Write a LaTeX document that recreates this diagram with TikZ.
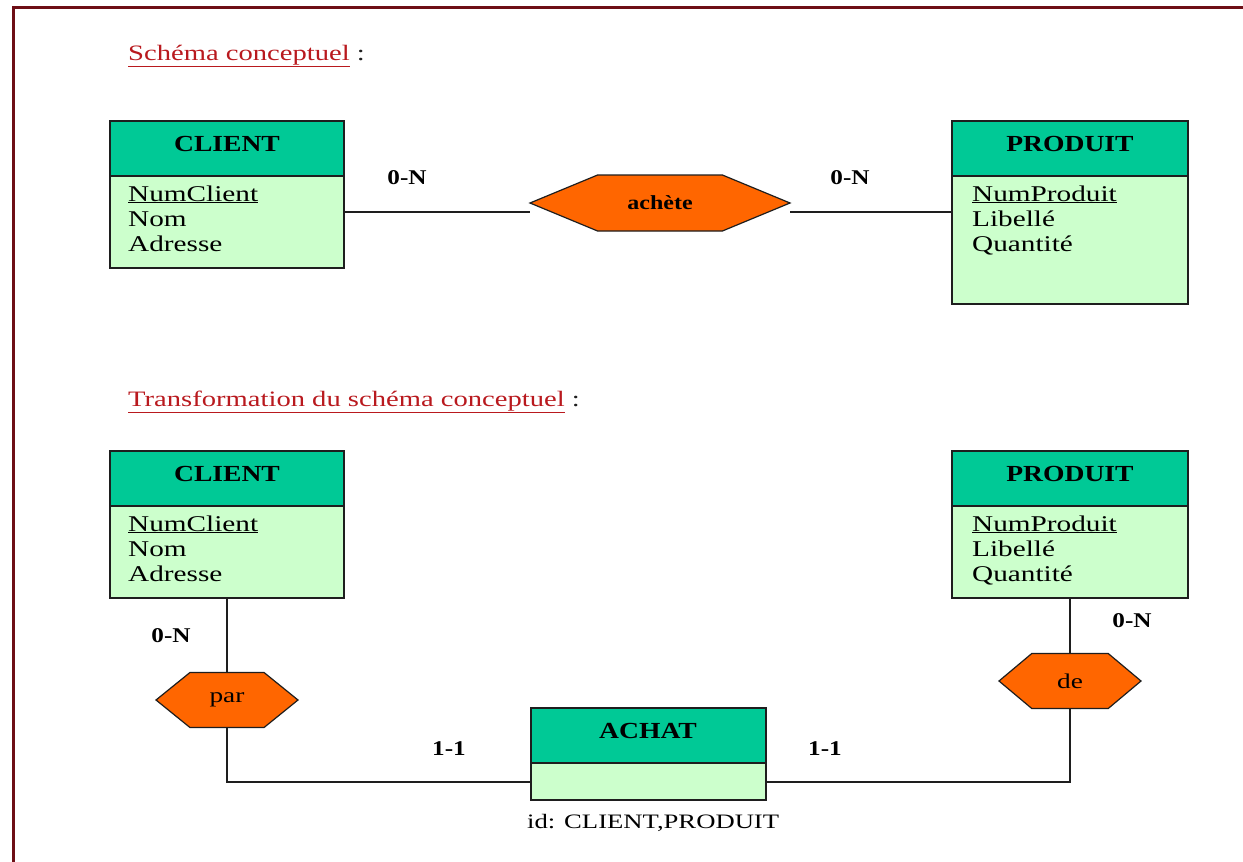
\documentclass[tikz,border=0pt]{standalone}
\usepackage{fontspec}
\setmainfont{Liberation Serif}
\newfontfamily\wideserif{Liberation Serif}[FakeStretch=1.3]
\newfontfamily\boldserif{Liberation Serif}[FakeStretch=1.2]
\usetikzlibrary{shapes.symbols}
\definecolor{framered}{RGB}{110,14,22}
\definecolor{titlered}{RGB}{185,25,30}
\definecolor{headgreen}{RGB}{0,201,150}
\definecolor{bodygreen}{RGB}{204,255,204}
\definecolor{relorange}{RGB}{255,102,0}
\definecolor{inkline}{RGB}{30,30,30}

\begin{document}
\begin{tikzpicture}[x=1pt,y=-1pt,
  entbox/.style={draw=inkline, line width=1.8pt, fill=bodygreen, rectangle,
    inner sep=0pt, outer sep=0pt, anchor=north west},
  enthead/.style={draw=inkline, line width=1.8pt, fill=headgreen, rectangle,
    inner sep=0pt, outer sep=0pt, anchor=north west, minimum height=55pt},
  entname/.style={font=\boldserif\bfseries\fontsize{23}{25}\selectfont,
    inner sep=0pt, anchor=base},
  attr/.style={font=\wideserif\fontsize{22.5}{25}\selectfont, inner sep=0pt,
    anchor=base west},
  card/.style={font=\boldserif\bfseries\fontsize{21}{24}\selectfont, inner sep=0pt},
  relshape/.style={shape=signal, signal to=east and west, draw=inkline,
    line width=1.2pt, fill=relorange, inner sep=0pt, outer sep=0pt},
  link/.style={draw=inkline, line width=1.8pt},
  heading/.style={font=\wideserif\fontsize{22}{25}\selectfont, inner sep=0pt,
    anchor=base west, text=inkline}
]
\useasboundingbox (0,0) rectangle (1243,862);
\fill[white] (0,0) rectangle (1243,862);

% page frame
\draw[framered, line width=3pt] (13,862) -- (13,7) -- (1243,7);

% section headings
\node[heading] (title1) at (128,60)
  {\textcolor{titlered}{\underline{Schéma conceptuel}} :};
\node[heading] (title2) at (128,406)
  {\textcolor{titlered}{\underline{Transformation du schéma conceptuel}} :};

% ---------- conceptual schema ----------
\node[entbox, minimum width=234pt, minimum height=147pt] (client1) at (110,121) {};
\node[enthead, minimum width=234pt] (client1h) at (client1.north west) {};
\node[entname] (client1n) at (227,151) {CLIENT};
\node[attr] (client1a) at (128,201) {\underline{NumClient}};
\node[attr] (client1b) at (128,226) {Nom};
\node[attr] (client1c) at (128,251) {Adresse};

\node[entbox, minimum width=236pt, minimum height=183pt] (produit1) at (952,121) {};
\node[enthead, minimum width=236pt] (produit1h) at (produit1.north west) {};
\node[entname] (produit1n) at (1070,151) {PRODUIT};
\node[attr] (produit1a) at (972,201) {\underline{NumProduit}};
\node[attr] (produit1b) at (972,226) {Libellé};
\node[attr] (produit1c) at (972,251) {Quantité};

\node[relshape, minimum width=260pt, minimum height=56pt, signal pointer angle=45,
  font=\boldserif\bfseries\fontsize{20}{22}\selectfont] (achete) at (660,203) {achète};

\coordinate (topline) at (0,212);
\draw[link] (client1.east |- topline) -- (achete.west |- topline);
\draw[link] (achete.east |- topline) -- (produit1.west |- topline);

\node[card] (card1) at (407,178) {0-N};
\node[card] (card2) at (850,178) {0-N};

% ---------- transformed schema ----------
\node[entbox, minimum width=234pt, minimum height=147pt] (client2) at (110,451) {};
\node[enthead, minimum width=234pt] (client2h) at (client2.north west) {};
\node[entname] (client2n) at (227,481) {CLIENT};
\node[attr] (client2a) at (128,531) {\underline{NumClient}};
\node[attr] (client2b) at (128,556) {Nom};
\node[attr] (client2c) at (128,581) {Adresse};

\node[entbox, minimum width=236pt, minimum height=147pt] (produit2) at (952,451) {};
\node[enthead, minimum width=236pt] (produit2h) at (produit2.north west) {};
\node[entname] (produit2n) at (1070,481) {PRODUIT};
\node[attr] (produit2a) at (972,531) {\underline{NumProduit}};
\node[attr] (produit2b) at (972,556) {Libellé};
\node[attr] (produit2c) at (972,581) {Quantité};

\node[entbox, minimum width=235pt, minimum height=92pt] (achat) at (531,708) {};
\node[enthead, minimum width=235pt] (achath) at (achat.north west) {};
\node[entname] (achatn) at (648,738) {ACHAT};
\node[attr, font=\wideserif\fontsize{20.5}{24}\selectfont] (achatid) at (527,828)
  {id: CLIENT,PRODUIT};

\node[relshape, minimum width=142pt, minimum height=55pt, signal pointer angle=78,
  font=\wideserif\fontsize{21}{22}\selectfont] (par) at (227,700) {par};
\node[relshape, minimum width=142pt, minimum height=55pt, signal pointer angle=80,
  font=\wideserif\fontsize{21}{22}\selectfont] (de) at (1070,681) {de};

\coordinate (botline) at (0,782);
\draw[link] (client2.south) -- (par.north);
\draw[link] (par.south) |- (achat.west |- botline);
\draw[link] (produit2.south) -- (de.north);
\draw[link] (de.south) |- (achat.east |- botline);

\node[card] (card3) at (171,636) {0-N};
\node[card] (card4) at (1132,621) {0-N};
\node[card] (card5) at (449,749) {1-1};
\node[card] (card6) at (825,749) {1-1};
\end{tikzpicture}
\end{document}
